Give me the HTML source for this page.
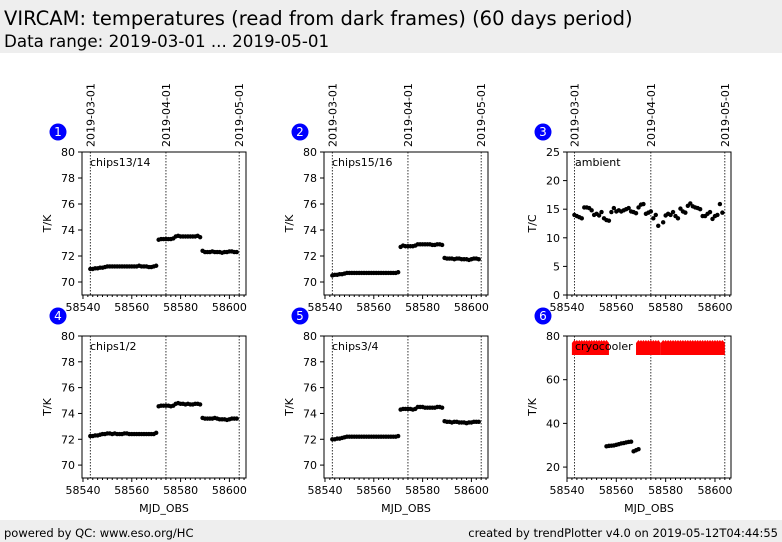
<!DOCTYPE html>
<html><head><meta charset="utf-8"><style>
body{margin:0;width:782px;height:542px;background:#fff;overflow:hidden;font-family:"DejaVu Sans","Liberation Sans",sans-serif}
svg{position:absolute;left:0;top:0}
</style></head><body>
<svg id="s" width="782" height="542" xmlns="http://www.w3.org/2000/svg">
<rect x="0" y="0" width="782" height="53" fill="#eeeeee"/>
<text x="4" y="25" font-size="19.5" fill="#000">VIRCAM: temperatures (read from dark frames) (60 days period)</text>
<text x="4" y="47" font-size="16.7" fill="#000">Data range: 2019-03-01 ... 2019-05-01</text>
<rect x="0" y="520" width="782" height="22" fill="#eeeeee"/>
<text x="4" y="537" font-size="11.5">powered by QC: www.eso.org/HC</text>
<text x="778" y="537" font-size="11.5" text-anchor="end">created by trendPlotter v4.0 on 2019-05-12T04:44:55</text>
</svg>
<script>
const days=[];for(let d=58543;d<=58603;d++)days.push(d);
const dateLabels=["2019-03-01","2019-04-01","2019-05-01"];
const dateMjd=[58543,58574,58604];
const xTicks=[58540,58560,58580,58600];
const chip1314=[71.0,71.0,71.05,71.05,71.1,71.1,71.15,71.2,71.2,71.2,71.2,71.2,71.2,71.2,71.2,71.2,71.2,71.2,71.2,71.2,71.25,71.2,71.2,71.2,71.15,71.15,71.2,71.25,73.25,73.3,73.3,73.3,73.3,73.3,73.35,73.5,73.55,73.5,73.5,73.5,73.5,73.5,73.5,73.5,73.55,73.45,72.4,72.3,72.3,72.3,72.35,72.3,72.3,72.3,72.25,72.3,72.3,72.35,72.35,72.3,72.3];
const chip1516=[70.5,70.55,70.55,70.6,70.6,70.65,70.7,70.7,70.7,70.7,70.7,70.7,70.7,70.7,70.7,70.7,70.7,70.7,70.7,70.7,70.7,70.7,70.7,70.7,70.7,70.7,70.7,70.75,72.7,72.8,72.75,72.75,72.75,72.75,72.8,72.9,72.9,72.9,72.9,72.9,72.9,72.85,72.85,72.9,72.9,72.85,71.85,71.8,71.8,71.8,71.75,71.8,71.8,71.75,71.75,71.75,71.7,71.75,71.8,71.8,71.75];
const chip12=[72.25,72.25,72.3,72.3,72.35,72.4,72.4,72.45,72.45,72.4,72.45,72.4,72.4,72.4,72.45,72.45,72.4,72.4,72.4,72.4,72.4,72.4,72.4,72.4,72.4,72.4,72.4,72.5,74.55,74.6,74.6,74.6,74.6,74.55,74.6,74.75,74.8,74.75,74.75,74.7,74.75,74.7,74.7,74.75,74.75,74.7,73.65,73.6,73.6,73.6,73.6,73.65,73.6,73.55,73.55,73.55,73.5,73.55,73.6,73.6,73.6];
const chip34=[72.0,72.0,72.05,72.05,72.1,72.15,72.2,72.2,72.2,72.2,72.2,72.2,72.2,72.2,72.2,72.2,72.2,72.2,72.2,72.2,72.2,72.2,72.2,72.2,72.2,72.2,72.2,72.25,74.3,74.35,74.35,74.35,74.35,74.3,74.35,74.5,74.5,74.5,74.45,74.45,74.45,74.45,74.45,74.5,74.5,74.45,73.4,73.35,73.35,73.3,73.35,73.35,73.3,73.3,73.3,73.25,73.3,73.3,73.35,73.35,73.35];
const ambient=[14,13.8,13.6,13.4,15.3,15.3,15.2,14.8,14.0,14.2,13.9,14.5,13.4,13.1,13.0,14.5,15.2,14.6,14.8,14.6,14.8,15.0,15.2,14.6,14.5,14.3,15.3,15.8,15.9,14.2,14.4,14.6,13.4,14.0,12.1,null,12.7,13.9,14.2,14.0,14.5,13.8,13.4,15.1,14.6,14.4,15.6,16.0,15.5,15.3,15.2,15.0,13.8,13.8,14.2,14.5,13.3,13.8,14.0,15.9,14.4];
const cryoDays=[];for(let d=58543;d<=58556;d++)cryoDays.push(d);for(let d=58569;d<=58577;d++)cryoDays.push(d);for(let d=58579;d<=58603;d++)cryoDays.push(d);
const cryoRed=cryoDays.map(()=>74.5);
const cryoBlackDays=[58556,58557,58558,58559,58560,58561,58562,58563,58564,58565,58566,58567,58568,58569];
const cryoBlack=[29.5,29.7,29.8,29.9,30.2,30.5,30.8,31.0,31.3,31.5,31.6,27.2,27.7,28.2];

const NS="http://www.w3.org/2000/svg";const svg=document.getElementById('s');
function el(t,a,p){const e=document.createElementNS(NS,t);for(const k in a)e.setAttribute(k,a[k]);(p||svg).appendChild(e);return e;}
const panels=[
 {n:1,L:82,R:246,T:152,B:295,x0:58539.6,x1:58606.8,y0:69,y1:80,yt:[70,72,74,76,78,80],lab:"chips13/14",yl:"T/K",d:chip1314,top:true},
 {n:2,L:324,R:488,T:152,B:295,x0:58539.6,x1:58606.8,y0:69,y1:80,yt:[70,72,74,76,78,80],lab:"chips15/16",yl:"T/K",d:chip1516,top:true},
 {n:3,L:567,R:731,T:152,B:295,x0:58540,x1:58606.5,y0:0,y1:25,yt:[0,5,10,15,20,25],lab:"ambient",yl:"T/C",d:ambient,top:true},
 {n:4,L:82,R:246,T:336,B:478,x0:58539.6,x1:58606.8,y0:69,y1:80,yt:[70,72,74,76,78,80],lab:"chips1/2",yl:"T/K",d:chip12},
 {n:5,L:324,R:488,T:336,B:478,x0:58539.6,x1:58606.8,y0:69,y1:80,yt:[70,72,74,76,78,80],lab:"chips3/4",yl:"T/K",d:chip34},
 {n:6,L:567,R:731,T:336,B:478,x0:58540,x1:58606.5,y0:15,y1:80,yt:[20,40,60,80],lab:"cryocooler",yl:"T/K",cryo:true}
];
panels.forEach(p=>{
 const g=el('g',{});
 
 
 const X=v=>p.L+(v-p.x0)/(p.x1-p.x0)*(p.R-p.L);
 const Y=v=>p.B-(v-p.y0)/(p.y1-p.y0)*(p.B-p.T);
 dateMjd.forEach((m,i)=>{
  const l=el('line',{x1:X(m),x2:X(m),y1:p.T,y2:p.B,stroke:'#000','stroke-width':0.8,'stroke-dasharray':'1.5,1.5'},g);
  
  
  if(p.top){const t=el('text',{x:0,y:0,'font-size':11,transform:`translate(${X(m)+4},${p.T-5}) rotate(-90)`,fill:'#000'},g);t.textContent=dateLabels[i];
   
   }
 });
 const c=el('circle',{cx:p.L-24,cy:p.T-20,r:8.5,fill:'#0000ff'},g);
 
 
 const ct=el('text',{x:p.L-24,y:p.T-16,'font-size':12,fill:'#fff','text-anchor':'middle'},g);ct.textContent=p.n;
 
 
 if(p.cryo){
  cryoDays.forEach((d,i)=>{const r=el('path',{d:`M${X(d)-2.5},${Y(cryoRed[i])+7} L${X(d)-2.5},${Y(cryoRed[i])-5} L${X(d)},${Y(cryoRed[i])-8} L${X(d)+2.5},${Y(cryoRed[i])-5} L${X(d)+2.5},${Y(cryoRed[i])+7}Z`,fill:'#ff0000'},g);
   
   });
  cryoBlackDays.forEach((d,i)=>{const r=el('circle',{cx:X(d),cy:Y(cryoBlack[i]),r:2.2,fill:'#000'},g);
   
   });
 } else {
  p.d.forEach((v,i)=>{if(v==null)return;const r=el('circle',{cx:X(days[i]),cy:Y(v),r:2.2,fill:'#000'},g);
   
   });
 }
 const lb=el('text',{x:p.L+8,y:p.T+14,'font-size':11,fill:'#000'},g);lb.textContent=p.lab;
 
 
 const bx=el('rect',{x:p.L,y:p.T,width:p.R-p.L,height:p.B-p.T,fill:'none',stroke:'#000','stroke-width':1},g);
 
 
 p.yt.forEach(v=>{el('line',{x1:p.L-4,x2:p.L,y1:Y(v),y2:Y(v),stroke:'#000'},g);
  const t=el('text',{x:p.L-7,y:Y(v)+4,'font-size':11,'text-anchor':'end'},g);t.textContent=v;
  
  });
 for(let m=58540;m<=p.x1;m+=2){if(X(m)<p.L-0.5)continue;el('line',{x1:X(m),x2:X(m),y1:p.B,y2:p.B+(m%20==0?4:2),stroke:'#000'},g);}
 xTicks.forEach(v=>{const t=el('text',{x:X(v),y:p.B+16,'font-size':11,'text-anchor':'middle'},g);t.textContent=v;
  
  });
 const yl=el('text',{x:0,y:0,'font-size':11,'text-anchor':'middle',transform:`translate(${p.L-31},${(p.T+p.B)/2}) rotate(-90)`},g);yl.textContent=p.yl;
 
 
 if(p.n>3){const xl=el('text',{x:(p.L+p.R)/2,y:p.B+34,'font-size':11,'text-anchor':'middle'},g);xl.textContent="MJD_OBS";
  
  }
});
</script>
</body></html>
